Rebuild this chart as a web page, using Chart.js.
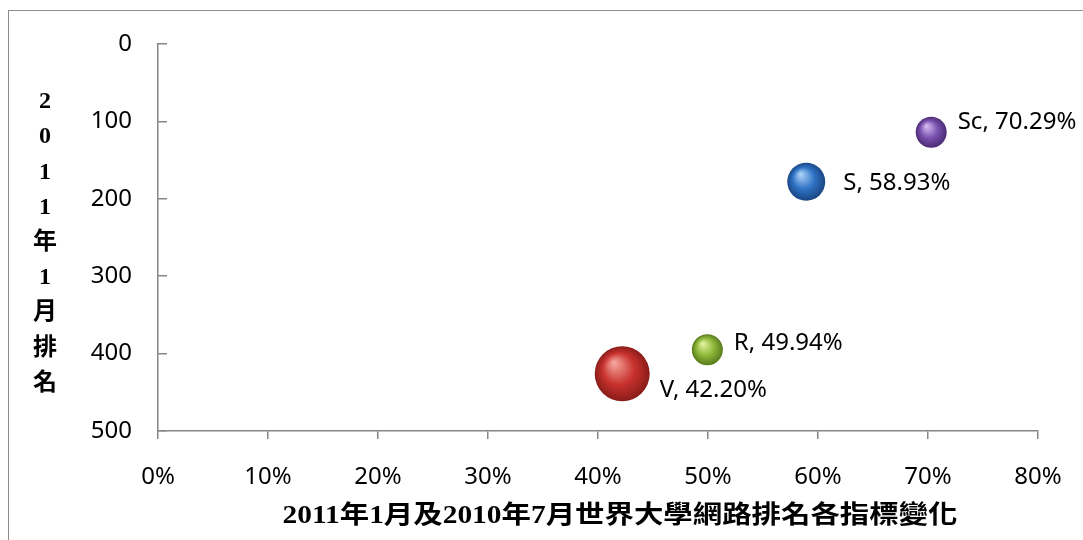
<!DOCTYPE html>
<html>
<head>
<meta charset="utf-8">
<script src="https://cdn.jsdelivr.net/npm/chart.js@4.4.1/dist/chart.umd.min.js"></script>
<style>
  html, body { margin: 0; padding: 0; background: #fff; }
</style>
</head>
<body>
<canvas id="rankChart" width="1083" height="540"></canvas>
<script>
// Data
const names = ['V', 'R', 'S', 'Sc'];
const changePct = [42.20, 49.94, 58.93, 70.29];   // x, percent
const rank2011 = [426, 395, 178, 114];            // y, rank (reversed axis)
const bubbleSize = [27.5, 15.5, 19, 15.5];        // bubble radius
const xTicks = [0, 10, 20, 30, 40, 50, 60, 70, 80];
const yTicks = [0, 100, 200, 300, 400, 500];
const yTitleChars = ['2', '0', '1', '1', '年', '1', '月', '排', '名'];
const xTitle = '2011年1月及2010年7月世界大學網路排名各指標變化';

// bubble colours: highlight, body, edge
const bubbleColors = [
    ['#f4a19a', '#c9322e', '#8a1c19'],
    ['#dff09a', '#8db83a', '#5a7a1c'],
    ['#a9d0f5', '#2f72c4', '#1a4683'],
    ['#d2b6ee', '#7a50ae', '#4a2c73']
];
// label offsets from bubble centre (px)
const labelOffsets = [[37.5, 16.5], [26.5, -7], [37, 1.5], [26.5, -10.5]];

const axisGrey = '#868686';
const tickFont = { family: '"Noto Sans", "DejaVu Sans", sans-serif', size: 24 };
const titleFamily = '"Liberation Serif", "Noto Sans CJK TC", serif';

function bubbleFill(ctx) {
    if (ctx.type !== 'data') return bubbleColors[0][1];
    const i = ctx.dataIndex;
    const chart = ctx.chart;
    const cols = bubbleColors[i];
    if (!chart.chartArea || !chart.scales.x) return cols[1];
    const cx = chart.scales.x.getPixelForValue(changePct[i]);
    const cy = chart.scales.y.getPixelForValue(rank2011[i]);
    const r = bubbleSize[i];
    const g = chart.ctx.createRadialGradient(cx - r * 0.3, cy - r * 0.4, r * 0.05, cx, cy, r);
    g.addColorStop(0, cols[0]);
    g.addColorStop(0.55, cols[1]);
    g.addColorStop(1, cols[2]);
    return g;
}

// Rahmen + Achsentitel
const framePlugin = {
    id: 'frame',
    beforeDraw(chart) {
        const c = chart.ctx;
        c.save();
        c.fillStyle = '#fff';
        c.fillRect(0, 0, chart.width, chart.height);
        c.strokeStyle = '#8c8c8c';
        c.lineWidth = 1;
        c.strokeRect(8.5, 10.5, 1200, 800);
        c.restore();
    },
    afterDraw(chart) {
        const c = chart.ctx;
        c.save();
        c.fillStyle = '#000';
        c.textAlign = 'center';
        c.textBaseline = 'middle';
        c.font = 'bold 24px ' + titleFamily;
        yTitleChars.forEach((ch, k) => c.fillText(ch, 45, 102 + k * 35.2));

        // x title, stretched to the original width
        c.font = 'bold 24px ' + titleFamily;
        const w = c.measureText(xTitle).width;
        const target = 675;
        c.translate(620, 516);
        c.scale(target / w, 1.05);
        c.fillText(xTitle, 0, 0);
        c.restore();
    }
};

const labelPlugin = {
    id: 'pointLabels',
    afterDatasetsDraw(chart) {
        const c = chart.ctx;
        const meta = chart.getDatasetMeta(0);
        c.save();
        c.fillStyle = '#000';
        c.font = '24px ' + tickFont.family;
        c.textAlign = 'left';
        c.textBaseline = 'middle';
        meta.data.forEach((el, i) => {
            const text = names[i] + ', ' + changePct[i].toFixed(2) + '%';
            c.fillText(text, el.x + labelOffsets[i][0], el.y + labelOffsets[i][1]);
        });
        c.restore();
    }
};

const points = names.map((n, i) => ({ x: changePct[i], y: rank2011[i], r: bubbleSize[i] }));

new Chart(document.getElementById('rankChart').getContext('2d'), {
    type: 'bubble',
    data: {
        datasets: [{
            label: '指標',
            data: points,
            backgroundColor: bubbleFill,
            hoverBackgroundColor: bubbleFill,
            borderWidth: 0,
            hoverBorderWidth: 0
        }]
    },
    options: {
        responsive: false,
        animation: false,
        layout: { padding: { top: 44, right: 45, left: 0, bottom: 0 } },
        plugins: {
            legend: { display: false },
            tooltip: { enabled: false }
        },
        scales: {
            x: {
                type: 'linear',
                min: xTicks[0],
                max: xTicks[xTicks.length - 1],
                afterBuildTicks: s => { s.ticks = xTicks.map(v => ({ value: v })); },
                afterFit: s => { s.height = 109; s.paddingLeft = 0; s.paddingRight = 0; },
                ticks: {
                    callback: v => v + '%',
                    color: '#000',
                    font: tickFont,
                    padding: 24,
                    maxRotation: 0
                },
                grid: { drawOnChartArea: false, tickLength: 8, color: axisGrey, lineWidth: 1.5 },
                border: { color: axisGrey, width: 1.5 }
            },
            y: {
                type: 'linear',
                reverse: true,
                min: yTicks[0],
                max: yTicks[yTicks.length - 1],
                afterBuildTicks: s => { s.ticks = yTicks.map(v => ({ value: v })); },
                afterFit: s => { s.width = 158; s.paddingTop = 0; s.paddingBottom = 0; },
                ticks: {
                    color: '#000',
                    font: tickFont,
                    padding: 35
                },
                // ticks point into the plot area
                grid: { drawOnChartArea: false, tickLength: -9, color: axisGrey, lineWidth: 1.5 },
                border: { color: axisGrey, width: 1.5 }
            }
        }
    },
    plugins: [framePlugin, labelPlugin]
});
</script>
</body>
</html>
